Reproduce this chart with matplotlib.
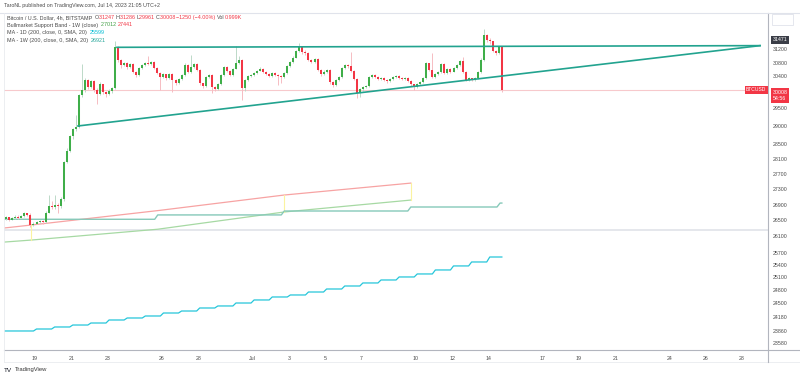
import numpy as np
import matplotlib
matplotlib.use("Agg")
import matplotlib.pyplot as plt

plt.rcParams["font.family"] = ["Liberation Sans", "DejaVu Sans"]

W, H = 800, 378

# ---- BTCUSD 4h candles (x axis = day of June, Jul 1 = 31) ----
last_bar_day = 44.75          # Jul 14, 18:00 (UTC+2)
bar_hours = 4
first_open = 26640
closes = [26540, 26580, 26520, 26560, 26600, 26570, 26620, 26680, 26650, 26380,
          26420, 26450, 26480, 26460, 26700, 26860, 26830, 26900, 26860, 27050,
          28020, 28310, 28720, 28900, 28970, 29850, 30000, 30290, 30080, 30260,
          30000, 29880, 30170, 29940, 29880, 29970, 30060, 31260, 30880, 30730,
          30790, 30670, 30760, 30530, 30440, 30640, 30720, 30790, 30760, 30820,
          30640, 30500, 30380, 30460, 30350, 30470, 30290, 30200, 30320, 30440,
          30730, 30530, 30670, 30760, 30580, 30200, 30120, 30380, 30440, 30090,
          30030, 30180, 30440, 30670, 30560, 30440, 30620, 30790, 30880, 30060,
          30290, 30400, 30440, 30500, 30560, 30620, 30530, 30470, 30410, 30500,
          30440, 30410, 30380, 30500, 30700, 30820, 30940, 31140, 31260, 31110,
          31080, 30880, 30820, 30900, 30580, 30470, 30530, 30580, 30230, 30140,
          30290, 30380, 30640, 30730, 30700, 30560, 30320, 29920, 30030, 30080,
          30110, 30380, 30440, 30380, 30320, 30350, 30290, 30260, 30320, 30380,
          30410, 30350, 30320, 30350, 30260, 30170, 30090, 30170, 30230, 30350,
          30790, 30580, 30380, 30470, 30530, 30760, 30500, 30620, 30530, 30640,
          30730, 30850, 30530, 30290, 30350, 30290, 30350, 30530, 30880, 31610,
          31460, 31430, 31140, 31080, 31247, 30008]
highs = [26700, 26610, 26600, 26590, 26640, 26630, 26650, 26720, 26700, 26690,
         26450, 26480, 26520, 26500, 26730, 27150, 27000, 27150, 26950, 27100,
         28050, 28380, 28760, 28950, 29300, 29900, 30760, 30350, 30320, 30300,
         30280, 30050, 30230, 30190, 29980, 30020, 30100, 31450, 31300, 30900,
         30830, 30820, 30800, 30780, 30560, 30680, 30760, 30830, 31000, 30860,
         30840, 30660, 30520, 30490, 30480, 30500, 30490, 30310, 30350, 30470,
         30780, 30750, 31020, 30800, 30780, 30600, 30220, 30420, 30480, 30460,
         30120, 30220, 30480, 30700, 30700, 30580, 30650, 31300, 30990, 30900,
         30330, 30440, 30480, 30530, 30590, 30660, 30640, 30560, 30490, 30530,
         30520, 30460, 30440, 30530, 30740, 30860, 30980, 31180, 31380, 31280,
         31160, 31100, 30900, 30940, 30920, 30600, 30570, 30620, 30600, 30260,
         30320, 30420, 30680, 30770, 30760, 31110, 30590, 30340, 30060, 30110,
         30150, 30420, 30480, 30470, 30400, 30380, 30370, 30310, 30350, 30410,
         30440, 30430, 30370, 30380, 30370, 30280, 30190, 30200, 30260, 30380,
         30830, 30800, 31080, 30500, 30560, 30800, 30780, 30650, 30640, 30670,
         30760, 30880, 30960, 30560, 30380, 30360, 30380, 30560, 30920, 31790,
         31640, 31520, 31450, 31180, 31260, 31286]
lows = [26500, 26520, 26490, 26500, 26540, 26540, 26560, 26600, 26610, 26340,
        26360, 26400, 26430, 26420, 26440, 26680, 26780, 26800, 26700, 26820,
        27000, 27980, 28280, 28650, 28860, 28940, 29800, 29950, 30020, 30050,
        29950, 29620, 29850, 29900, 29820, 29850, 29930, 30030, 30820, 30650,
        30700, 30620, 30640, 30490, 30380, 30420, 30610, 30700, 30730, 30740,
        30600, 30460, 30000, 30350, 30300, 30320, 29950, 30150, 30180, 30290,
        30420, 30490, 30500, 30650, 30540, 30150, 30060, 30100, 30350, 29930,
        29990, 30000, 30160, 30420, 30520, 30400, 30420, 30600, 30760, 29710,
        29980, 30260, 30380, 30410, 30480, 30540, 30500, 30430, 30380, 30390,
        30400, 30150, 30200, 30350, 30480, 30680, 30800, 30920, 31100, 31060,
        31020, 30840, 30780, 30800, 30540, 30420, 30440, 30500, 30190, 30100,
        30120, 30260, 30360, 30620, 30650, 30520, 30280, 29770, 29800, 29990,
        30050, 30090, 30350, 30340, 30290, 30290, 30250, 30220, 30240, 30300,
        30350, 30320, 30280, 30290, 30230, 30120, 30000, 30060, 30150, 30200,
        30330, 30550, 30340, 30350, 30440, 30500, 30460, 30480, 30500, 30510,
        30610, 30700, 30500, 30250, 30260, 30260, 30270, 30330, 30500, 30850,
        31400, 31350, 31100, 31020, 31060, 29961]

# ---- indicators ----
ma1d_days = list(range(17, 45))           # daily values, Jun 17 .. Jul 14
ma1d = [23853, 23853, 23898, 23944, 23989, 24035, 24104, 24150, 24196, 24265,
        24311, 24381, 24428, 24497, 24568, 24638, 24685, 24755, 24826, 24897,
        24969, 25040, 25112, 25184, 25280, 25377, 25473, 25594]

week_days = [17.29, 18.79, 25.77, 32.75, 39.73]
band_red = [26310, 26385, 26750, 27150, 27460]      # 1W bullmarket band (upper)
band_green = [25960, 26010, 26280, 26715, 27020]    # 1W bullmarket band (lower)
band_marks = [18.79, 32.75, 39.73]

ma1w_days = [17.29, 25.77, 32.75, 39.73, 44.65]
ma1w = [26530, 26640, 26740, 26842, 26943]

tri_top_days = [23.52, 58.99]
tri_top = [31250, 31300]
tri_low_days = [21.37, 58.99]
tri_low = [28995, 31300]

last_price = 30008
level_box = 31471

ytick_vals = [31200, 30800, 30400, 29500, 29000, 28500, 28100, 27700, 27300,
              26900, 26500, 26100, 25700, 25400, 25100, 24800, 24500, 24180,
              23860, 23580]
xtick_days = [19, 21, 23, 26, 28, 31, 33, 35, 37, 40, 42, 44, 47, 49, 51, 54, 56, 58]
xtick_labels = ["19", "21", "23", "26", "28", "Jul", "3", "5", "7", "10", "12",
                "14", "17", "19", "21", "24", "26", "28"]

UP, DN = "#3fae49", "#f23645"
UP_W, DN_W = "#bcd9c8", "#f6bcc2"
GRAY = "#4a4a4a"
TEAL = "#22a38f"


def steps(days, vals, end, ramp):
    xs, ys = [days[0]], [vals[0]]
    for i in range(1, len(days)):
        xs += [days[i] - ramp, days[i]]
        ys += [vals[i - 1], vals[i]]
    xs.append(end)
    ys.append(vals[-1])
    return xs, ys


fig = plt.figure(figsize=(W / 100, H / 100), dpi=100)
ax = fig.add_axes([4 / W, 28 / H, 764 / W, 337 / H])
ax.set_yscale("log")
ax.set_xlim(17.29, 59.43)
ax.set_ylim(23425, 32288)

# separator of the lower pane
ax.plot([0, 1], [0.356, 0.356], transform=ax.transAxes, color="#e3e5ea", lw=1.3, zorder=1)

# last price line
ax.axhline(last_price, color="#f7c9cc", lw=0.8, zorder=1)

# MA 1D
d_start = [d + 1 / 12 for d in ma1d_days]
xs, ys = steps(d_start, ma1d, last_bar_day, bar_hours / 24)
ax.plot(xs, ys, color="#26c6da", lw=0.9, zorder=2)

# bullmarket support band
ax.plot(week_days, band_red, color="#f7a3a3", lw=0.9, zorder=2)
ax.plot(week_days, band_green, color="#a6d9a3", lw=0.9, zorder=2)
for d in band_marks:
    i = week_days.index(d)
    ax.plot([d, d], [band_green[i], band_red[i]], color="#fbf3a0", lw=0.8, zorder=2)

# MA 1W
xs, ys = steps(ma1w_days, ma1w, last_bar_day, bar_hours / 24)
ax.plot(xs, ys, color="#86c9b9", lw=1.0, zorder=2)

# candles
c = np.array(closes, float)
o = np.array([first_open] + closes[:-1], float)
n = len(c)
days = last_bar_day - (n - 1 - np.arange(n)) * bar_hours / 24
up = c >= o
ax.vlines(days, lows, highs, colors=np.where(up, UP_W, DN_W), lw=0.7, zorder=3)
ax.vlines(days, np.minimum(o, c), np.maximum(o, c), colors=np.where(up, UP, DN),
          lw=1.45, zorder=4)

# triangle
ax.plot(tri_top_days, tri_top, color=TEAL, lw=1.2, zorder=5)
ax.plot(tri_low_days, tri_low, color=TEAL, lw=1.2, zorder=5)

# axes styling
for s in ["top", "left"]:
    ax.spines[s].set_visible(False)
ax.spines["right"].set_color("#b2b5be")
ax.spines["bottom"].set_color("#b2b5be")
ax.spines["right"].set_linewidth(0.8)
ax.spines["bottom"].set_linewidth(0.8)
ax.yaxis.tick_right()
ax.set_yticks(ytick_vals)
ax.set_yticklabels([str(v) for v in ytick_vals])
ax.yaxis.set_minor_locator(matplotlib.ticker.NullLocator())
ax.set_xticks(xtick_days)
ax.set_xticklabels(xtick_labels)
ax.tick_params(axis="both", length=0, labelsize=3.8, labelcolor=GRAY)
ax.tick_params(axis="y", pad=3.5)
ax.tick_params(axis="x", pad=4)

# price boxes
yt = ax.get_yaxis_transform()
ax.text(1.006, level_box, str(level_box), transform=yt, ha="left", va="center",
        fontsize=3.8, color="white",
        bbox=dict(boxstyle="square,pad=0.35", fc="#3b3e47", ec="none"))
ax.text(1.006, last_price, f"{last_price}\n54:56", transform=yt, ha="left", va="top",
        fontsize=3.8, color="white", linespacing=1.2,
        bbox=dict(boxstyle="square,pad=0.35", fc=DN, ec="none"))
ax.text(0.998, last_price, "BTCUSD", transform=yt, ha="right", va="center",
        fontsize=3.6, color="white",
        bbox=dict(boxstyle="square,pad=0.3", fc=DN, ec="none"))

# frame lines
fig.add_artist(plt.Line2D([0, 1], [1 - 12.7 / H, 1 - 12.7 / H], color="#e0e3eb", lw=0.8))
fig.add_artist(plt.Line2D([4 / W, 4 / W], [1 - 12.7 / H, 1 - 362 / H], color="#e9ebef", lw=0.6))
fig.add_artist(plt.Line2D([4 / W, 1], [1 - 362 / H, 1 - 362 / H], color="#e9ebef", lw=0.6))
fig.add_artist(plt.Line2D([768 / W, 1], [1 - 350 / H, 1 - 350 / H], color="#b2b5be", lw=0.8))
fig.add_artist(plt.Line2D([768 / W, 768 / W], [1 - 350 / H, 1 - 362 / H], color="#b2b5be", lw=0.8))
fig.add_artist(matplotlib.patches.Rectangle((772 / W, 1 - 25 / H), 21 / W, 11 / H,
               transform=fig.transFigure, fc="white", ec="#e0e3eb", lw=0.6))

rend = fig.canvas.get_renderer()


def row(x, y, parts, size=3.9):
    for s, col in parts:
        t = fig.text(x / W, 1 - y / H, s, color=col, fontsize=size, ha="left", va="center")
        x += t.get_window_extent(renderer=rend).width


row(4, 6, [("TaroNL published on TradingView.com, Jul 14, 2023 21:05 UTC+2", GRAY)], size=3.75)
row(7, 17.7, [("Bitcoin / U.S. Dollar, 4h, BITSTAMP  ", GRAY), ("O", GRAY), ("31247 ", DN),
              ("H", GRAY), ("31286 ", DN), ("L", GRAY), ("29961 ", DN), ("C", GRAY),
              ("30008 ", DN), ("\u22121250 (\u22124.00%) ", DN), ("Vol", GRAY), ("0.999K", DN)])
row(7, 25, [("Bullmarket Support Band - 1W (close)  ", GRAY), ("27012 ", "#43a047"),
            ("27441", DN)])
row(7, 32.7, [("MA - 1D (200, close, 0, SMA, 20)  ", GRAY), ("25599", "#00bcd4")])
row(7, 40.3, [("MA - 1W (200, close, 0, SMA, 20)  ", GRAY), ("26921", "#26a69a")])

row(4, 370, [("TV", "#131722")], size=4.6)
row(15, 370, [("TradingView", "#333333")], size=4.2)

fig.savefig("out.png", dpi=100, facecolor="white")
